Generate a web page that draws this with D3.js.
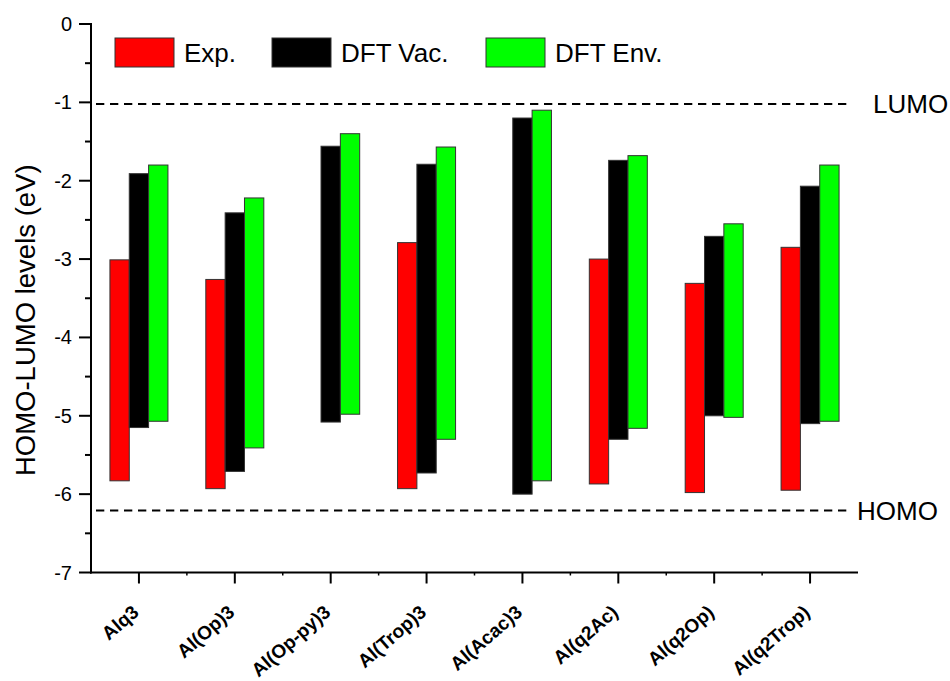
<!DOCTYPE html>
<html lang="en">
<head>
<meta charset="UTF-8">
<title>HOMO-LUMO levels</title>
<script src="https://d3js.org/d3.v7.min.js"></script>
<style>
    body { margin: 0; background: #fff; }
    svg { display: block; font-family: Arial, "Liberation Sans", sans-serif; }
</style>
</head>
<body>
<div id="chart"></div>
<script>
    // values (eV)
    const categories = ["Alq3", "Al(Op)3", "Al(Op-py)3", "Al(Trop)3", "Al(Acac)3", "Al(q2Ac)", "Al(q2Op)", "Al(q2Trop)"];
    const seriesNames = ["Exp.", "DFT Vac.", "DFT Env."];
    const seriesColors = ["#ff0000", "#000000", "#00ff00"];
    const expLumo = [-3.01, -3.26, null, -2.79, null, -3.00, -3.31, -2.85];
    const expHomo = [-5.83, -5.93, null, -5.93, null, -5.87, -5.98, -5.95];
    const vacLumo = [-1.91, -2.41, -1.56, -1.79, -1.20, -1.74, -2.71, -2.07];
    const vacHomo = [-5.15, -5.71, -5.08, -5.73, -6.00, -5.30, -5.00, -5.10];
    const envLumo = [-1.80, -2.22, -1.40, -1.57, -1.10, -1.68, -2.55, -1.80];
    const envHomo = [-5.07, -5.41, -4.98, -5.30, -5.83, -5.16, -5.02, -5.07];
    const yTicks = [0, -1, -2, -3, -4, -5, -6, -7];
    const refLines = [{ label: "LUMO", value: -1.02 }, { label: "HOMO", value: -6.21 }];

    const width = 950, height = 681;
    const plotLeft = 91, plotRight = 858, plotTop = 24, plotBottom = 572.5;

    const svg = d3.select("#chart").append("svg")
        .attr("width", width)
        .attr("height", height);

    const x = d3.scaleBand().domain(categories).range([plotLeft, plotRight]);
    const y = d3.scaleLinear().domain([-7, 0]).range([plotBottom, plotTop]);

    const lumo = [expLumo, vacLumo, envLumo];
    const homo = [expHomo, vacHomo, envHomo];

    // flatten into one record per bar
    const bars = [];
    categories.forEach((c, i) => {
        seriesNames.forEach((s, j) => {
            if (lumo[j][i] == null) return;
            bars.push({ cat: c, series: s, hi: lumo[j][i], lo: homo[j][i], color: seriesColors[j] });
        });
    });

    const groupW = 58;
    const x1 = d3.scaleBand().domain(seriesNames).range([-groupW / 2, groupW / 2]);

    // dashed reference lines
    const refEnds = [852, 847];
    refLines.forEach((r, i) => {
        svg.append("line")
            .attr("x1", 96).attr("x2", refEnds[i])
            .attr("y1", y(r.value)).attr("y2", y(r.value))
            .attr("stroke", "#000")
            .attr("stroke-width", 2)
            .attr("stroke-dasharray", "8.3,5.7");
        svg.append("text")
            .attr("x", refEnds[i] + (i === 0 ? 21 : 10))
            .attr("y", y(r.value) + 9)
            .attr("font-size", 26)
            .text(r.label);
    });

    // bars
    svg.append("g").selectAll("rect")
        .data(bars)
        .join("rect")
        .attr("x", d => x(d.cat) + x.bandwidth() / 2 + x1(d.series))
        .attr("width", x1.bandwidth())
        .attr("y", d => y(d.hi))
        .attr("height", d => y(d.lo) - y(d.hi))
        .attr("fill", d => d.color)
        .attr("stroke", "#333")
        .attr("stroke-width", 1);

    // y axis
    const yAxis = svg.append("g");
    yAxis.append("line")
        .attr("x1", plotLeft).attr("x2", plotLeft)
        .attr("y1", plotTop - 1).attr("y2", plotBottom + 1)
        .attr("stroke", "#000").attr("stroke-width", 2);
    yAxis.selectAll(".major")
        .data(yTicks)
        .join("line")
        .attr("x1", plotLeft - 12).attr("x2", plotLeft)
        .attr("y1", d => y(d)).attr("y2", d => y(d))
        .attr("stroke", "#000").attr("stroke-width", 2);
    yAxis.selectAll(".minor")
        .data(yTicks.slice(1).map(v => v + 0.5))
        .join("line")
        .attr("x1", plotLeft - 6).attr("x2", plotLeft)
        .attr("y1", d => y(d)).attr("y2", d => y(d))
        .attr("stroke", "#000").attr("stroke-width", 2);
    yAxis.selectAll("text")
        .data(yTicks)
        .join("text")
        .attr("x", plotLeft - 19)
        .attr("y", d => y(d) + 7)
        .attr("text-anchor", "end")
        .attr("font-size", 20)
        .text(d => String(d));

    svg.append("text")
        .attr("transform", `translate(35,${(plotTop + plotBottom) / 2 + 22}) rotate(-90)`)
        .attr("text-anchor", "middle")
        .attr("font-size", 27.5)
        .text("HOMO-LUMO levels (eV)");

    // x axis
    const xAxis = svg.append("g");
    xAxis.append("line")
        .attr("x1", plotLeft - 1).attr("x2", plotRight)
        .attr("y1", plotBottom).attr("y2", plotBottom)
        .attr("stroke", "#000").attr("stroke-width", 2);
    xAxis.selectAll(".major")
        .data(categories)
        .join("line")
        .attr("x1", d => x(d) + x.bandwidth() / 2).attr("x2", d => x(d) + x.bandwidth() / 2)
        .attr("y1", plotBottom).attr("y2", plotBottom + 11)
        .attr("stroke", "#000").attr("stroke-width", 2);
    xAxis.selectAll(".minor")
        .data(categories.slice(1))
        .join("line")
        .attr("x1", d => x(d)).attr("x2", d => x(d))
        .attr("y1", plotBottom).attr("y2", plotBottom + 3)
        .attr("stroke", "#000").attr("stroke-width", 1.5);
    xAxis.selectAll("text")
        .data(categories)
        .join("text")
        .attr("transform", d => `translate(${x(d) + x.bandwidth() / 2 + 1},614) rotate(-41)`)
        .attr("text-anchor", "end")
        .attr("font-size", 19)
        .attr("font-weight", "bold")
        .text(d => d);

    // legend
    const legendX = [115, 272, 486];
    const legend = svg.append("g").selectAll("g")
        .data(seriesNames)
        .join("g")
        .attr("transform", (d, i) => `translate(${legendX[i]},38)`);
    legend.append("rect")
        .attr("width", 59).attr("height", 29)
        .attr("fill", (d, i) => seriesColors[i])
        .attr("stroke", "#333").attr("stroke-width", 1);
    legend.append("text")
        .attr("x", 69).attr("y", 24)
        .attr("font-size", 26)
        .text(d => d);
</script>
</body>
</html>
